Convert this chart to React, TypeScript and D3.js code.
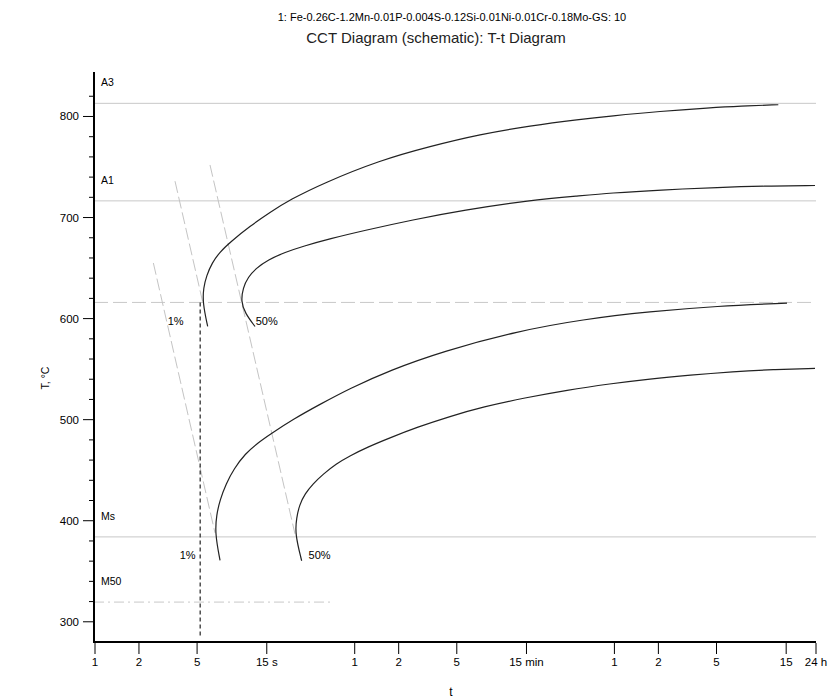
import React from "react";
import * as d3 from "d3";

// time in seconds, temperature in °C
const timeTicks = [1, 2, 5, 15, 60, 120, 300, 900, 3600, 7200, 18000, 54000, 86400];
const timeLabels = ["1", "2", "5", "15 s", "1", "2", "5", "15 min", "1", "2", "5", "15", "24 h"];
const tempMajor = [300, 400, 500, 600, 700, 800];
const tempMinor = [320, 340, 360, 380, 420, 440, 460, 480, 520, 540, 560, 580, 620, 640, 660, 680, 720, 740, 760, 780, 820];

const refLines = [
  { name: "A3", T: 813 },
  { name: "A1", T: 716.5 },
  { name: "Ms", T: 384 },
];
const m50 = { name: "M50", T: 319.5, tEnd: 41 };
const noseTemp = 616;
const dottedTime = 5.25;
const dottedBottom = 286;

// ferrite start curves (upper)
const upper1 = [
  [5.91, 592.2], [5.46, 615.7], [5.53, 630.5], [5.8, 642.4], [6.33, 655.2], [7.18, 666.1],
  [8.4, 675.5], [11.5, 691.4], [15.8, 705.2], [21.6, 717.6], [36.4, 733.9], [89.4, 756.7],
  [197, 770.5], [433, 782.4], [952, 790.8], [2093, 797.2], [3359, 800.4], [7388, 805.1],
  [16250, 808.6], [26080, 810.3], [47700, 811.6],
];
const upper50 = [
  [12.46, 592.2], [10.64, 605.5], [9.99, 617], [10.31, 630.5], [11.16, 640.9], [12.66, 649.8],
  [15.29, 658.2], [20, 665.6], [26.6, 671.6], [40.6, 679], [68.4, 686.9], [150.4, 697.8],
  [331, 707.2], [952, 717.1], [2093, 721.5], [3359, 724.2], [7388, 727.3], [19030, 729.9],
  [37480, 731.1], [85050, 731.7],
];
// bainite curves (lower)
const lower1 = [
  [7.18, 360.7], [6.63, 387.6], [6.79, 405.9], [7.18, 420.7], [7.89, 436.6], [8.95, 451.4],
  [10.64, 466.2], [13.06, 477.1], [15.8, 485.5], [22.7, 500.4], [34.7, 515.2], [55.7, 531],
  [104.7, 548.9], [241.4, 567.7], [775, 587.5], [2194, 599.3], [6310, 607], [18150, 612.4],
  [54700, 615.4],
];
const lower50 = [
  [26, 360.4], [23.4, 387.1], [23.97, 402.9], [25.13, 415.8], [27.4, 426.7], [31.1, 436.6],
  [36.4, 446], [44.7, 456.3], [55.7, 464.3], [72.9, 472.7], [104.7, 482.1], [160.2, 492.5],
  [269.6, 503.3], [453.6, 512.7], [879, 521.6], [1705, 529.3], [3359, 535.5], [6310, 540.4],
  [11860, 544.1], [23360, 547.4], [43870, 549.6], [85050, 550.8],
];

const guides = [
  [[2.51, 655], [6.63, 388]],
  [[3.53, 736], [5.45, 617]],
  [[6.13, 752], [23.4, 387]],
];

const pctLabels = [
  { text: "1%", t: 4.04, T: 593.5, anchor: "end" },
  { text: "50%", t: 12.6, T: 593.5, anchor: "start" },
  { text: "1%", t: 4.88, T: 362, anchor: "end" },
  { text: "50%", t: 29, T: 362, anchor: "start" },
];

const FONT = "'Liberation Sans', Arial, sans-serif";

export default function App() {
  const x = d3.scaleLog().domain([1, 86400]).range([95, 816]);
  const y = d3.scaleLinear().domain([280, 845]).range([642, 71]);
  const x0 = 94;
  const xEnd = x(86400);

  const curve = d3
    .line<number[]>()
    .x((d) => x(d[0]))
    .y((d) => y(d[1]))
    .curve(d3.curveBasis);
  const straight = d3
    .line<number[]>()
    .x((d) => x(d[0]))
    .y((d) => y(d[1]));

  return (
    <svg
      width={835}
      height={700}
      style={{ position: "absolute", left: 0, top: 0, background: "#fff" }}
      fontFamily={FONT}
    >
      <text x={452} y={21} textAnchor="middle" fontSize={11}>
        1: Fe-0.26C-1.2Mn-0.01P-0.004S-0.12Si-0.01Ni-0.01Cr-0.18Mo-GS: 10
      </text>
      <text x={436} y={43} textAnchor="middle" fontSize={15} fill="#222">
        CCT Diagram (schematic): T-t Diagram
      </text>

      {/* reference lines */}
      {refLines.map((r) => (
        <g key={r.name}>
          <line x1={x0} x2={xEnd} y1={y(r.T)} y2={y(r.T)} stroke="#c8c8c8" strokeWidth={1} />
          <text x={101} y={y(r.T) - 17} fontSize={10.5}>
            {r.name}
          </text>
        </g>
      ))}
      <line
        x1={x0}
        x2={x(m50.tEnd)}
        y1={y(m50.T)}
        y2={y(m50.T)}
        stroke="#c8c8c8"
        strokeDasharray="10,4,2,4"
      />
      <text x={101} y={y(m50.T) - 17} fontSize={10.5}>
        {m50.name}
      </text>
      <line
        x1={x0}
        x2={xEnd}
        y1={y(noseTemp)}
        y2={y(noseTemp)}
        stroke="#c8c8c8"
        strokeDasharray="14,5"
      />

      {/* guide lines */}
      {guides.map((g, i) => (
        <path key={i} d={straight(g) || ""} fill="none" stroke="#c4c4c4" strokeDasharray="12,4" />
      ))}

      <line
        x1={x(dottedTime)}
        x2={x(dottedTime)}
        y1={y(noseTemp)}
        y2={y(dottedBottom)}
        stroke="#333"
        strokeWidth={1.3}
        strokeDasharray="4,3"
      />

      {[upper1, upper50, lower1, lower50].map((c, i) => (
        <path key={i} d={curve(c) || ""} fill="none" stroke="#222" strokeWidth={1.2} />
      ))}

      {pctLabels.map((l, i) => (
        <text key={i} x={x(l.t)} y={y(l.T)} textAnchor={l.anchor} fontSize={11}>
          {l.text}
        </text>
      ))}

      {/* axes */}
      <line x1={x0} x2={x0} y1={72} y2={643} stroke="#000" strokeWidth={2} />
      <line x1={x0 - 1} x2={xEnd} y1={642} y2={642} stroke="#000" strokeWidth={2} />
      {tempMajor.map((t) => (
        <g key={t}>
          <line x1={83} x2={x0} y1={y(t)} y2={y(t)} stroke="#000" />
          <text x={79} y={y(t) + 4} textAnchor="end" fontSize={11.5}>
            {t}
          </text>
        </g>
      ))}
      {tempMinor.map((t) => (
        <line key={t} x1={89} x2={x0} y1={y(t)} y2={y(t)} stroke="#000" />
      ))}
      {timeTicks.map((t, i) => (
        <g key={t}>
          <line x1={x(t)} x2={x(t)} y1={643} y2={654} stroke="#000" />
          <text x={x(t)} y={666} textAnchor="middle" fontSize={11.5}>
            {timeLabels[i]}
          </text>
        </g>
      ))}
      <text x={451} y={696} textAnchor="middle" fontSize={12}>
        t
      </text>
      <text
        transform="translate(49,378) rotate(-90)"
        textAnchor="middle"
        fontSize={10.5}
      >
        T, °C
      </text>
    </svg>
  );
}
